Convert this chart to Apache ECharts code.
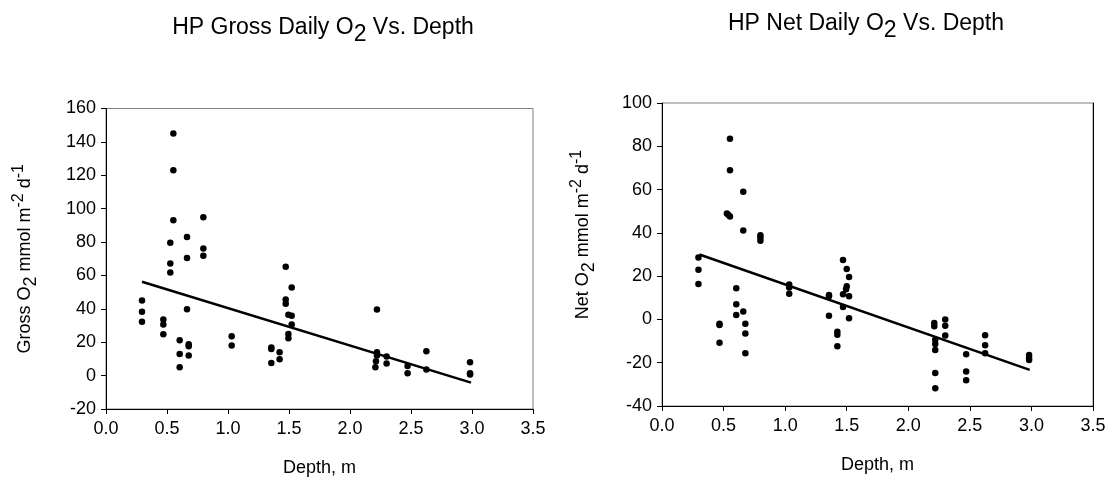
<!DOCTYPE html>
<html>
<head>
<meta charset="utf-8">
<style>
  html, body { margin: 0; padding: 0; background: #fff; }
  #chart { width: 1113px; height: 486px; }
</style>
</head>
<body>
<div id="chart"></div>
<script src="https://cdn.jsdelivr.net/npm/echarts@6/dist/echarts.min.js"></script>
<script>
// Gross daily O2 vs depth (left panel)
var grossDepth = [0.295, 0.295, 0.295, 0.47, 0.47, 0.47, 0.552, 0.552, 0.552, 0.527, 0.527, 0.527,
  0.604, 0.604, 0.604, 0.664, 0.664, 0.664, 0.678, 0.678, 0.678, 0.798, 0.798, 0.798, 1.03, 1.03,
  1.355, 1.355, 1.355, 1.423, 1.423, 1.473, 1.473, 1.473, 1.522, 1.495, 1.522, 1.522, 1.495, 1.495,
  2.221, 2.221, 2.221, 2.213, 2.208, 2.30, 2.30, 2.472, 2.472, 2.626, 2.626, 2.984, 2.984, 2.984];
var grossO2 = [45, 38.2, 32.2, 33.6, 30.6, 24.8, 145, 123, 93, 79.6, 67.2, 61.8,
  21.2, 13, 5, 83, 70.4, 39.8, 18.8, 17.6, 12, 94.8, 76.2, 71.8, 23.6, 18,
  16.8, 16, 7.6, 14, 9.8, 65.2, 45.6, 43, 52.8, 36.4, 35.8, 30.6, 25, 22.4,
  39.6, 14, 12, 8.6, 5, 11.4, 7.2, 5.8, 1.4, 14.6, 3.6, 8, 1.4, 0.6];
var grossFitX = [0.295, 2.992];
var grossFitY = [56.2, -4.2];

// Net daily O2 vs depth (right panel)
var netDepth = [0.296, 0.296, 0.296, 0.467, 0.467, 0.467, 0.552, 0.552, 0.527, 0.538, 0.552,
  0.603, 0.603, 0.603, 0.66, 0.66, 0.66, 0.677, 0.677, 0.677, 0.799, 0.799, 0.799,
  1.033, 1.033, 1.033, 1.356, 1.356, 1.356, 1.424, 1.424, 1.424,
  1.47, 1.5, 1.519, 1.5, 1.495, 1.47, 1.519, 1.47, 1.519,
  2.211, 2.211, 2.219, 2.219, 2.219, 2.219, 2.219, 2.30, 2.30, 2.30,
  2.47, 2.47, 2.47, 2.624, 2.624, 2.624, 2.981, 2.981, 2.981];
var netO2 = [28.6, 23, 16.4, -2.0, -2.6, -10.8, 83.5, 68.9, 49, 48.4, 47.6,
  14.4, 7, 2, 59, 41.1, 3.7, -2, -6.5, -15.6, 38.9, 37.7, 36.3,
  16.1, 14.7, 11.9, 11.3, 10.7, 1.7, -5.7, -7.1, -12.4,
  27.5, 23.3, 19.6, 15.3, 13.9, 11.6, 10.7, 5.7, 0.5,
  -1.7, -3.2, -9.4, -11.3, -14.1, -24.7, -31.8, 0, -2.9, -7.4,
  -16.1, -24.1, -28.1, -7.3, -11.9, -15.6, -16.4, -17.8, -18.7];
var netFitX = [0.304, 2.986];
var netFitY = [30, -23.3];

function pairs(xs, ys) {
  return xs.map(function (x, i) { return [x, ys[i]]; });
}

var FONT = 'Liberation Sans';
var rich = {
  a: { fontFamily: FONT, fontSize: 18, color: '#000' },
  s: { fontFamily: FONT, fontSize: 18, color: '#000', padding: [12, 0, 0, 0] },
  p: { fontFamily: FONT, fontSize: 16, color: '#000', padding: [0, 0, 12, 0] }
};
var titleRich = {
  a: { fontFamily: FONT, fontSize: 23, fontWeight: 'normal', color: '#000' },
  s: { fontFamily: FONT, fontSize: 23, fontWeight: 'normal', color: '#000', padding: [14, 0, 0, 0] }
};

function xAxis(idx) {
  return {
    gridIndex: idx, type: 'value', min: 0, max: 3.5, interval: 0.5,
    name: 'Depth, m', nameLocation: 'middle', nameGap: 50,
    nameTextStyle: { fontFamily: FONT, fontSize: 18, color: '#000' },
    axisLine: { onZero: false, lineStyle: { color: '#000', width: 1 } },
    axisTick: { length: 5, lineStyle: { color: '#000' } },
    axisLabel: { fontFamily: FONT, fontSize: 18, color: '#000', margin: 11,
      formatter: function (v) { return v.toFixed(1); } },
    splitLine: { show: false }
  };
}

function yAxis(idx, min, max, name, gap, pad) {
  return {
    gridIndex: idx, type: 'value', min: min, max: max, interval: 20,
    name: name, nameLocation: 'middle', nameGap: gap,
    nameTextStyle: { rich: rich, padding: pad },
    axisLine: { onZero: false, lineStyle: { color: '#000', width: 1 } },
    axisTick: { length: 5, lineStyle: { color: '#000' } },
    axisLabel: { fontFamily: FONT, fontSize: 18, color: '#000', margin: 10 },
    splitLine: { show: false }
  };
}

var chart = echarts.init(document.getElementById('chart'));

var option = {
  backgroundColor: '#fff',
  animation: false,
  title: [
    { text: '{a|HP Gross Daily O}{s|2}{a| Vs. Depth}', left: 318, top: 4, textAlign: 'center',
      textStyle: { rich: titleRich } },
    { text: '{a|HP Net Daily O}{s|2}{a| Vs. Depth}', left: 861, top: 0, textAlign: 'center',
      textStyle: { rich: titleRich } }
  ],
  grid: [
    { left: 106, top: 108.5, width: 427, height: 300.5, show: true, borderColor: '#808080', borderWidth: 1 },
    { left: 662, top: 103, width: 431, height: 303, show: true, borderColor: '#808080', borderWidth: 1 }
  ],
  xAxis: [xAxis(0), xAxis(1)],
  yAxis: [
    yAxis(0, -20, 160, '{a|Gross O}{s|2}{a| mmol m}{p|-2}{a| d}{p|-1}', 66, [0, 0, 0, 0]),
    yAxis(1, -40, 100, '{a|Net O}{s|2}{a| mmol m}{p|-2}{a| d}{p|-1}', 64, [0, 0, 0, 40]),
    // black right edge of the right panel
    { gridIndex: 1, type: 'value', position: 'right', min: -40, max: 100,
      axisLine: { show: true, onZero: false, lineStyle: { color: '#000', width: 1 } },
      axisTick: { show: false }, axisLabel: { show: false }, splitLine: { show: false } }
  ],
  series: [
    { type: 'scatter', xAxisIndex: 0, yAxisIndex: 0, data: pairs(grossDepth, grossO2),
      symbol: 'circle', symbolSize: 6.5, itemStyle: { color: '#000', opacity: 1 } },
    { type: 'line', xAxisIndex: 0, yAxisIndex: 0, data: pairs(grossFitX, grossFitY),
      symbol: 'none', lineStyle: { color: '#000', width: 2.5 } },
    { type: 'scatter', xAxisIndex: 1, yAxisIndex: 1, data: pairs(netDepth, netO2),
      symbol: 'circle', symbolSize: 6.5, itemStyle: { color: '#000', opacity: 1 } },
    { type: 'line', xAxisIndex: 1, yAxisIndex: 1, data: pairs(netFitX, netFitY),
      symbol: 'none', lineStyle: { color: '#000', width: 2.5 } }
  ]
};

chart.setOption(option);
</script>
</body>
</html>
